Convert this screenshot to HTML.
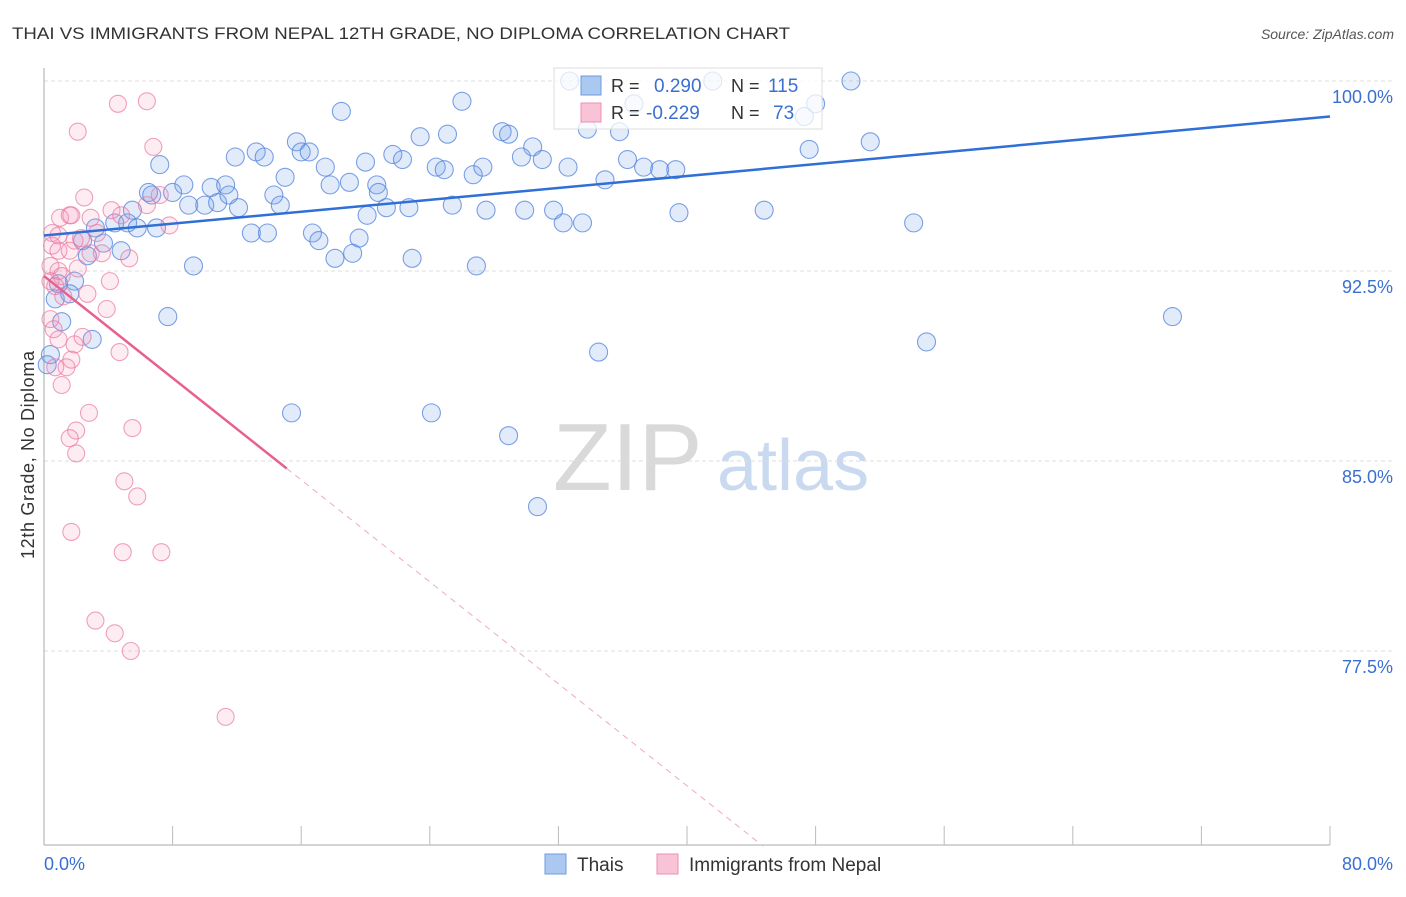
<!DOCTYPE html>
<html><head><meta charset="utf-8"><style>
body{margin:0;background:#fff;font-family:"Liberation Sans",sans-serif}
svg text{font-family:"Liberation Sans",sans-serif}
</style></head><body>
<svg id="chart" width="1406" height="892">
<text x="12" y="39" font-size="17" fill="#333" textLength="778" lengthAdjust="spacingAndGlyphs">THAI VS IMMIGRANTS FROM NEPAL 12TH GRADE, NO DIPLOMA CORRELATION CHART</text>
<text x="1394" y="39" font-size="14" fill="#555" font-style="italic" text-anchor="end">Source: ZipAtlas.com</text>
<g>
<text x="553" y="490" font-size="96" fill="#d9d9d9" font-family="Liberation Serif,serif">ZIP</text>
<text x="717" y="490" font-size="72" fill="#c9d9f0">atlas</text></g>
<g id="grid"></g><g id="pts"></g><g id="lines"></g>
<text transform="translate(34,455) rotate(-90)" font-size="18" fill="#333" text-anchor="middle" textLength="208">12th Grade, No Diploma</text>
<g>
<rect x="554" y="68" width="268" height="61" fill="rgba(255,255,255,0.75)" stroke="#ddd"/>
<rect x="581" y="76" width="20" height="19" fill="#aac8f0" stroke="#6f9be0"/>
<rect x="581" y="103" width="20" height="19" fill="#f8c3d6" stroke="#ee8fb0"/>
<text x="611" y="92" font-size="18" fill="#333">R =</text><text x="654" y="92" font-size="19" fill="#3a6fd1">0.290</text>
<text x="731" y="92" font-size="18" fill="#333">N =</text><text x="768" y="92" font-size="19" fill="#3a6fd1">115</text>
<text x="611" y="119" font-size="18" fill="#333">R =</text><text x="646" y="119" font-size="19" fill="#3a6fd1">-0.229</text>
<text x="731" y="119" font-size="18" fill="#333">N =</text><text x="773" y="119" font-size="19" fill="#3a6fd1">73</text>
</g>
<g>
<rect x="545" y="854" width="21" height="20" fill="#aac8f0" stroke="#6f9be0"/>
<text x="577" y="871" font-size="19" fill="#333">Thais</text>
<rect x="657" y="854" width="21" height="20" fill="#f8c3d6" stroke="#ee8fb0"/>
<text x="689" y="871" font-size="19" fill="#333">Immigrants from Nepal</text>
</g>
</svg>
<script>
const yTicks=[100,92.5,85,77.5];
const yTickLabels=["100.0%","92.5%","85.0%","77.5%"];
const blueX=[18.5,26.0,32.7,36.7,41.6,50.2,48.0,33.8,35.8,47.3,15.7,23.4,25.1,28.5,28.9,30.4,51.4,47.6,7.2,11.9,13.2,13.7,16.0,16.5,17.5,20.0,21.7,22.3,24.4,24.9,26.7,27.3,29.7,31.0,32.6,34.9,36.3,37.3,38.3,39.3,15.0,8.7,6.5,6.7,8.0,10.4,11.3,9.0,10.0,10.8,11.5,12.1,14.3,14.7,17.8,19.0,20.7,20.8,20.1,21.3,22.7,25.4,27.5,29.9,31.7,32.3,33.5,39.5,44.8,54.1,5.5,4.4,5.2,3.2,5.8,7.0,12.9,13.9,16.7,17.1,19.6,18.1,19.2,22.9,26.9,9.3,3.7,2.4,2.7,4.8,1.9,0.9,0.7,1.6,1.1,3.0,7.7,34.5,54.9,70.2,15.4,24.1,28.9,30.7,0.4,0.2];
const blueY=[98.8,99.2,100.0,99.1,100.0,100.0,99.1,98.1,98.0,98.6,97.6,97.8,97.9,98.0,97.9,97.4,97.6,97.3,96.7,97.0,97.2,97.0,97.2,97.2,96.6,96.8,97.1,96.9,96.6,96.5,96.3,96.6,97.0,96.9,96.6,96.1,96.9,96.6,96.5,96.5,96.2,95.9,95.6,95.5,95.6,95.8,95.9,95.1,95.1,95.2,95.5,95.0,95.5,95.1,95.9,96.0,95.9,95.6,94.7,95.0,95.0,95.1,94.9,94.9,94.9,94.4,94.4,94.8,94.9,94.4,94.9,94.4,94.4,94.2,94.2,94.2,94.0,94.0,94.0,93.7,93.8,93.0,93.2,93.0,92.7,92.7,93.6,93.7,93.1,93.3,92.1,92.0,91.4,91.6,90.5,89.8,90.7,89.3,89.7,90.7,86.9,86.9,86.0,83.2,89.2,88.8];
const pinkX=[4.6,6.4,2.1,6.8,2.5,7.2,6.4,7.8,4.2,4.8,1.0,1.6,1.7,2.9,0.5,0.9,1.9,2.3,3.3,0.5,0.9,1.6,2.9,3.6,5.3,0.4,0.9,1.1,2.1,0.4,0.7,1.2,2.7,4.1,3.9,0.4,0.6,0.9,1.9,2.4,1.7,4.7,0.7,1.4,1.1,2.8,2.0,1.6,5.5,2.0,5.0,5.8,1.7,4.9,7.3,3.2,4.4,5.4,11.3];
const pinkY=[99.1,99.2,98.0,97.4,95.4,95.5,95.1,94.3,94.9,94.7,94.6,94.7,94.7,94.6,94.0,93.9,93.7,93.8,94.0,93.5,93.3,93.3,93.2,93.2,93.0,92.7,92.5,92.3,92.6,92.1,91.9,91.5,91.6,92.1,91.0,90.6,90.2,89.8,89.6,89.9,89.0,89.3,88.7,88.7,88.0,86.9,86.2,85.9,86.3,85.3,84.2,83.6,82.2,81.4,81.4,78.7,78.2,77.5,74.9];
const blueTrend=[93.9,98.6];
const pinkTrend=[92.3,-0.503];
const X=v=>44+v*1286/80, Y=v=>81+(100-v)*190/7.5;
const NS="http://www.w3.org/2000/svg";
function mk(t,a,p){const e=document.createElementNS(NS,t);for(const k in a)e.setAttribute(k,a[k]);p.appendChild(e);return e;}
const g=document.getElementById('grid');
yTicks.forEach((v,i)=>{
 const l=mk('line',{x1:44,x2:1393,y1:Y(v),y2:Y(v),stroke:'#ddd','stroke-dasharray':'4,3'},g);
 
 
 const t=mk('text',{x:1393,y:Y(v)+22,'font-size':18,fill:'#3a6fd1','text-anchor':'end'},g);t.textContent=yTickLabels[i];
 
 
});
mk('line',{x1:44,x2:44,y1:68,y2:845,stroke:'#aaa'},g);
mk('line',{x1:44,x2:1330,y1:845,y2:845,stroke:'#aaa'},g);
for(let i=1;i<=10;i++){const t=mk('line',{x1:X(i*8),x2:X(i*8),y1:826,y2:845,stroke:'#bbb'},g);
 
 }
let t0=mk('text',{x:44,y:870,'font-size':18,fill:'#3a6fd1'},g);t0.textContent='0.0%';


let t1=mk('text',{x:1393,y:870,'font-size':18,fill:'#3a6fd1','text-anchor':'end'},g);t1.textContent='80.0%';


const p=document.getElementById('pts');
blueX.forEach((x,i)=>{const c=mk('circle',{cx:X(x),cy:Y(blueY[i]),r:9,fill:'rgba(110,155,230,0.2)',stroke:'rgba(80,130,220,0.75)','stroke-width':1.1},p);
 
 });
pinkX.forEach((x,i)=>{const c=mk('circle',{cx:X(x),cy:Y(pinkY[i]),r:8.5,fill:'rgba(240,140,180,0.16)',stroke:'rgba(235,120,160,0.7)','stroke-width':1.1},p);
 
 });
const L=document.getElementById('lines');
let bl=mk('line',{x1:X(0),y1:Y(blueTrend[0]),x2:X(80),y2:Y(blueTrend[1]),stroke:'#2f6fd6','stroke-width':2.5},L);


const pf=x=>pinkTrend[0]+pinkTrend[1]*x;
let pl=mk('line',{x1:X(0),y1:Y(pf(0)),x2:X(15.1),y2:Y(pf(15.1)),stroke:'#e8608e','stroke-width':2.5},L);


const xe=(pinkTrend[0]-69.8)/(-pinkTrend[1]);
let pd=mk('line',{x1:X(15.1),y1:Y(pf(15.1)),x2:X(xe),y2:Y(pf(xe)),stroke:'#eeaac0','stroke-width':1,'stroke-dasharray':'6,5'},L);


</script>
</body></html>
